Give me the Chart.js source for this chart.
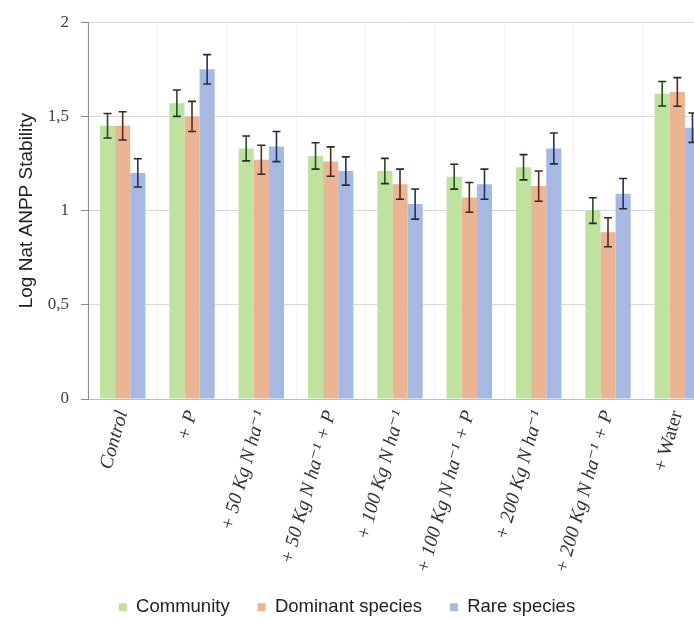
<!DOCTYPE html>
<html>
<head>
<meta charset="utf-8">
<script src="https://cdn.jsdelivr.net/npm/chart.js@4"></script>
<style>
  html, body { margin: 0; padding: 0; background: #fff; overflow: hidden; }
  #wrap { width: 712px; height: 619px; position: relative; }
</style>
</head>
<body>
<div id="wrap"><canvas id="chart"></canvas></div>
<script>
const treatments = ["Control", "+ P", "+ 50 Kg N ha⁻¹", "+ 50 Kg N ha⁻¹ + P", "+ 100 Kg N ha⁻¹",
  "+ 100 Kg N ha⁻¹ + P", "+ 200 Kg N ha⁻¹", "+ 200 Kg N ha⁻¹ + P", "+ Water"]
const community = [1.45, 1.57, 1.33, 1.29, 1.21, 1.18, 1.23, 1.00, 1.62]
const communityErr = [0.065, 0.07, 0.066, 0.07, 0.067, 0.066, 0.067, 0.068, 0.065]
const dominant = [1.45, 1.50, 1.27, 1.26, 1.14, 1.07, 1.13, 0.885, 1.63]
const dominantErr = [0.075, 0.08, 0.077, 0.078, 0.08, 0.079, 0.08, 0.077, 0.076]
const rare = [1.20, 1.75, 1.34, 1.21, 1.035, 1.14, 1.33, 1.09, 1.44]
const rareErr = [0.075, 0.078, 0.08, 0.075, 0.08, 0.08, 0.082, 0.08, 0.078]
const yTicks = [0, 0.5, 1, 1.5, 2]

const serif = "'Liberation Serif', 'DejaVu Serif', 'Times New Roman', serif"
const sans = "'Liberation Sans', Arial, sans-serif"

function buildDataset(label, data, errors, color, errColor) {
  return {
    label,
    data,
    errors,
    errColor,
    backgroundColor: color,
    borderWidth: 0,
    barPercentage: 1,
    categoryPercentage: 0.655
  }
}

const errorBars = {
  id: "errorBars",
  afterDatasetsDraw(chart) {
    const { ctx } = chart
    const y = chart.scales.y
    chart.data.datasets.forEach((ds, i) => {
      const meta = chart.getDatasetMeta(i)
      meta.data.forEach((bar, j) => {
        const top = y.getPixelForValue(ds.data[j] + ds.errors[j])
        const bottom = y.getPixelForValue(ds.data[j] - ds.errors[j])
        ctx.save()
        ctx.lineWidth = 1.6
        ctx.strokeStyle = ds.errColor
        ctx.beginPath()
        ctx.moveTo(bar.x, top)
        ctx.lineTo(bar.x, bottom)
        ctx.stroke()
        ctx.strokeStyle = "#2b2b2b"
        ctx.beginPath()
        ctx.moveTo(bar.x - 4, top)
        ctx.lineTo(bar.x + 4, top)
        ctx.moveTo(bar.x - 4, bottom)
        ctx.lineTo(bar.x + 4, bottom)
        ctx.stroke()
        ctx.restore()
      })
    })
  }
}

// keep the legend short so the long rotated labels get room,
// then nudge it so it sits centred on the visible window like the original
const legendFit = {
  id: "legendFit",
  beforeLayout(chart) {
    const lg = chart.legend
    if (!lg || lg._patched) return
    const fit = lg.fit
    lg.fit = function () {
      fit.call(this)
      this.height = 30
    }
    lg._patched = true
  },
  afterLayout(chart) {
    const lg = chart.legend
    if (!lg) return
    lg.left -= 18
    lg.top -= 19
  }
}

new Chart(document.getElementById("chart"), {
  type: "bar",
  data: {
    labels: treatments,
    datasets: [
      buildDataset("Community", community, communityErr, "#bfe39e", "#24521a"),
      buildDataset("Dominant species", dominant, dominantErr, "#ebb493", "#5e2a10"),
      buildDataset("Rare species", rare, rareErr, "#a7b9e3", "#1c3566")
    ]
  },
  plugins: [errorBars, legendFit],
  options: {
    responsive: true,
    maintainAspectRatio: false,
    animation: false,
    layout: { padding: { top: 22, left: 0, right: 0, bottom: 0 } },
    plugins: {
      tooltip: { enabled: false },
      legend: {
        position: "bottom",
        labels: {
          boxWidth: 8,
          boxHeight: 8,
          padding: 28,
          color: "#222",
          font: { family: sans, size: 18.5 }
        }
      }
    },
    scales: {
      x: {
        afterFit: (scale) => { scale.height = 190 },
        grid: { color: "#f4f4f4", drawTicks: false, offset: true },
        border: { color: "#bdbdbd" },
        ticks: {
          autoSkip: false,
          minRotation: 74,
          maxRotation: 74,
          padding: 9,
          color: "#333",
          font: (c) => ({ family: serif, size: 19.5, style: c.index === 8 ? "normal" : "italic" })
        }
      },
      y: {
        min: 0,
        max: 2,
        afterFit: (scale) => { scale.width = 88 },
        afterBuildTicks: (scale) => { scale.ticks = yTicks.map(v => ({ value: v })) },
        grid: { color: "#d9d9d9", tickColor: "#8c8c8c", tickLength: 7 },
        border: { color: "#8c8c8c" },
        ticks: {
          padding: 12,
          color: "#404040",
          font: { family: serif, size: 17 },
          callback: (v) => String(v).replace(".", ",")
        },
        title: {
          display: true,
          text: "Log Nat ANPP Stability",
          color: "#222",
          padding: { top: 15, bottom: 0 },
          font: { family: sans, size: 19 }
        }
      }
    }
  }
})
</script>
</body>
</html>
